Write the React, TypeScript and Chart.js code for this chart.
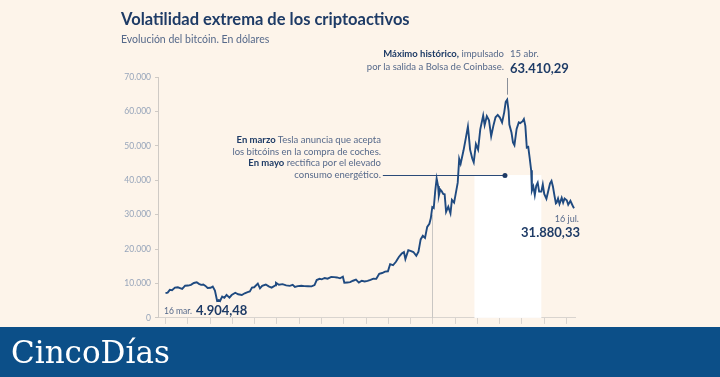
import React, { useEffect, useRef } from "react";
import { Chart, registerables } from "chart.js";

Chart.register(...registerables);

// ---- data ----
const dates: string[] = [
  "2020-01-01","2020-01-04","2020-01-07","2020-01-10","2020-01-14","2020-01-18","2020-01-21","2020-01-24","2020-01-28",
  "2020-02-01","2020-02-05","2020-02-09","2020-02-13","2020-02-16","2020-02-19","2020-02-22","2020-02-25","2020-02-28",
  "2020-03-03","2020-03-06","2020-03-09","2020-03-12","2020-03-14","2020-03-16","2020-03-19","2020-03-22","2020-03-25","2020-03-29",
  "2020-04-01","2020-04-06","2020-04-10","2020-04-15","2020-04-19","2020-04-23","2020-04-26","2020-04-29",
  "2020-05-02","2020-05-07","2020-05-10","2020-05-13","2020-05-18","2020-05-22","2020-05-26","2020-05-31",
  "2020-06-01","2020-06-05","2020-06-10","2020-06-15","2020-06-20","2020-06-24","2020-06-27",
  "2020-07-01","2020-07-06","2020-07-10","2020-07-15","2020-07-20","2020-07-24","2020-07-27","2020-07-31",
  "2020-08-03","2020-08-07","2020-08-11","2020-08-16","2020-08-20","2020-08-24","2020-08-28",
  "2020-09-01","2020-09-03","2020-09-07","2020-09-11","2020-09-15","2020-09-19","2020-09-23","2020-09-27",
  "2020-10-01","2020-10-05","2020-10-09","2020-10-13","2020-10-17","2020-10-21","2020-10-25","2020-10-29",
  "2020-11-02","2020-11-05","2020-11-09","2020-11-13","2020-11-17","2020-11-21","2020-11-24","2020-11-26","2020-11-30",
  "2020-12-03","2020-12-07","2020-12-11","2020-12-14","2020-12-17","2020-12-20","2020-12-23","2020-12-26","2020-12-29","2020-12-31",
  "2021-01-02","2021-01-04","2021-01-06","2021-01-08","2021-01-10","2021-01-11","2021-01-13","2021-01-15","2021-01-17","2021-01-19",
  "2021-01-21","2021-01-24","2021-01-27","2021-01-29",
  "2021-02-01","2021-02-04","2021-02-06","2021-02-08","2021-02-10","2021-02-14","2021-02-17","2021-02-20","2021-02-21","2021-02-23","2021-02-26","2021-02-28",
  "2021-03-03","2021-03-06","2021-03-09","2021-03-13","2021-03-15","2021-03-18","2021-03-21","2021-03-24","2021-03-27","2021-03-30",
  "2021-04-02","2021-04-05","2021-04-08","2021-04-11","2021-04-13","2021-04-15","2021-04-17","2021-04-18","2021-04-21","2021-04-23","2021-04-25","2021-04-28",
  "2021-05-01","2021-05-03","2021-05-06","2021-05-08","2021-05-10","2021-05-12","2021-05-14","2021-05-16","2021-05-18","2021-05-19","2021-05-21","2021-05-23","2021-05-25","2021-05-27","2021-05-29",
  "2021-06-01","2021-06-03","2021-06-05","2021-06-08","2021-06-11","2021-06-13","2021-06-15","2021-06-17","2021-06-19","2021-06-21","2021-06-22","2021-06-24","2021-06-26","2021-06-29",
  "2021-07-01","2021-07-03","2021-07-06","2021-07-08","2021-07-11","2021-07-13","2021-07-15","2021-07-16",
];

const prices: number[] = [
  7200,7350,8150,8050,8800,8900,8650,8400,9350,
  9400,9600,10150,10350,9900,9600,9700,9300,8700,
  8750,9100,7950,4970,5200,4904,6190,5830,6700,5900,
  6640,7300,6860,6640,7150,7500,7700,8800,
  8900,9950,8600,9300,9700,9150,8800,9450,
  10200,9650,9800,9450,9300,9600,9000,
  9230,9350,9240,9200,9160,9550,11000,11350,
  11200,11600,11400,11900,11850,11750,11500,
  11950,10200,10300,10400,10800,11100,10250,10800,
  10600,10750,11060,11400,11350,12800,13050,13450,
  13550,15600,15300,16300,17700,18700,19150,17100,19650,
  19450,19150,18050,19250,22800,23850,23250,26450,27350,29000,
  32200,31900,36800,40500,38300,35500,37300,36800,36000,35900,
  30800,32300,30400,34300,
  33500,37000,39300,46200,44800,48700,52100,55600,53500,48900,46300,45200,
  50500,48900,54800,58800,56000,58600,57400,52800,55800,58300,
  59000,58200,56800,59800,62800,63410,60100,56200,53800,51000,50200,54900,
  56800,56600,57100,57800,55800,49500,49700,46400,42900,37000,38200,35700,38400,39300,36700,
  36700,38800,36000,34600,37300,39100,39800,38100,35600,33300,33500,34700,33100,34900,
  33500,34700,34200,32900,34000,33100,32200,31880,
];

const yTicks: number[] = [0, 10000, 20000, 30000, 40000, 50000, 60000, 70000];

const ORIGIN = Date.parse("2020-01-01T00:00:00Z");
const dayOf = (d: string) => (Date.parse(d + "T00:00:00Z") - ORIGIN) / 86400000;

const points = dates.map((d, i) => ({ x: dayOf(d), y: prices[i] }));
const monthTicks: number[] = Array.from({ length: 19 }, (_, i) => i * 30.65);

const bandStart = dayOf("2021-03-01");
const bandEnd = dayOf("2021-06-01");
const yearLine = dayOf("2021-01-01");
const peakDay = dayOf("2021-04-15");
const peakValue = 63410;
const teslaLine = { from: dayOf("2020-10-26"), to: dayOf("2021-04-12"), value: 41500 };

const fmt = (v: number) => v === 0 ? "0" : v.toLocaleString("de-DE");

const NAVY = "#1e3b66";
const GRAYTEXT = "#56698a";
const FONT = "Lato, 'Open Sans', sans-serif";

const decorPlugin = {
  id: "decor",
  beforeDatasetsDraw(chart: any) {
    const { ctx, scales, chartArea } = chart;
    const x = scales.x, y = scales.y;
    ctx.save();
    // white band
    const x0 = x.getPixelForValue(bandStart);
    const x1 = x.getPixelForValue(bandEnd);
    const yTop = y.getPixelForValue(teslaLine.value);
    ctx.fillStyle = "#ffffff";
    ctx.fillRect(x0, yTop, x1 - x0, chartArea.bottom - yTop);
    // year line
    const xl = Math.round(x.getPixelForValue(yearLine)) + 0.5;
    ctx.strokeStyle = "#c9c6c3";
    ctx.lineWidth = 1;
    ctx.beginPath();
    ctx.moveTo(xl, y.getPixelForValue(30000));
    ctx.lineTo(xl, chartArea.bottom);
    ctx.stroke();
    // tesla annotation line + dot
    const ty = Math.round(y.getPixelForValue(teslaLine.value)) + 0.5;
    const tx0 = x.getPixelForValue(teslaLine.from);
    const tx1 = x.getPixelForValue(teslaLine.to);
    ctx.strokeStyle = "#2a4a78";
    ctx.beginPath();
    ctx.moveTo(tx0, ty);
    ctx.lineTo(tx1, ty);
    ctx.stroke();
    ctx.fillStyle = "#1e3b66";
    ctx.beginPath();
    ctx.arc(tx1, ty, 2.5, 0, Math.PI * 2);
    ctx.fill();
    // peak line
    const px = Math.round(x.getPixelForValue(peakDay)) + 0.5;
    ctx.strokeStyle = "#8a8f99";
    ctx.beginPath();
    ctx.moveTo(px, 78);
    ctx.lineTo(px, y.getPixelForValue(peakValue) - 5);
    ctx.stroke();
    ctx.restore();
  },
};

function BtcChart() {
  const ref = useRef<HTMLCanvasElement>(null);
  useEffect(() => {
    if (!ref.current) return;
    const chart = new Chart(ref.current, {
      type: "line",
      data: {
        datasets: [
          {
            data: points,
            borderColor: "#1f4a80",
            borderWidth: 1.9,
            pointRadius: 0,
            tension: 0,
            fill: false,
          },
        ],
      },
      options: {
        responsive: false,
        animation: false,
        events: [],
        layout: { padding: { left: 118, right: 144.5, top: 77, bottom: 1 } },
        plugins: { legend: { display: false }, tooltip: { enabled: false } },
        scales: {
          x: {
            type: "linear",
            min: -10.3,
            max: 564,
            afterBuildTicks: (axis: any) => {
              axis.ticks = monthTicks.map((v) => ({ value: v }));
            },
            afterFit: (axis: any) => {
              axis.height = 6;
            },
            ticks: { display: false },
            grid: { drawOnChartArea: false, drawTicks: true, tickLength: 6, color: "#d9d4cf" },
            border: { display: true, color: "#d9d4cf" },
          },
          y: {
            type: "linear",
            min: 0,
            max: 70000,
            afterBuildTicks: (axis: any) => {
              axis.ticks = yTicks.map((v) => ({ value: v }));
            },
            afterFit: (axis: any) => {
              axis.width = 40;
            },
            ticks: {
              callback: (v: any) => fmt(Number(v)),
              color: "#97a5ba",
              font: { family: FONT, size: 8.5 },
              padding: 4,
            },
            grid: { drawOnChartArea: false, drawTicks: true, tickLength: 3, color: "#cfcac5" },
            border: { display: true, color: "#cfcac5" },
          },
        },
      },
      plugins: [decorPlugin],
    });
    return () => chart.destroy();
  }, []);
  return (
    <canvas
      ref={ref}
      width={720}
      height={327}
      style={{ position: "absolute", left: 0, top: 0, width: 720, height: 327 }}
    />
  );
}

const abs = (s: React.CSSProperties): React.CSSProperties => ({ position: "absolute", whiteSpace: "nowrap", fontFamily: FONT, ...s });

export default function App() {
  return (
    <div style={{ position: "fixed", left: 0, top: 0, width: 720, height: 377, background: "#fdf4ea", overflow: "hidden" }}>
      <BtcChart />
      <div style={abs({ left: 121, top: 8, fontSize: 16.5, fontWeight: 700, color: NAVY, lineHeight: "22px" })}>
        Volatilidad extrema de los criptoactivos
      </div>
      <div style={abs({ left: 121, top: 32, fontSize: 10.5, color: GRAYTEXT, lineHeight: "14px" })}>
        Evolución del bitcóin. En dólares
      </div>
      <div style={abs({ right: 216, top: 47, fontSize: 9.5, color: GRAYTEXT, lineHeight: "13px", textAlign: "right" })}>
        <b style={{ color: NAVY }}>Máximo histórico,</b> impulsado<br />por la salida a Bolsa de Coinbase.
      </div>
      <div style={abs({ left: 510, top: 47, fontSize: 9.5, color: GRAYTEXT, lineHeight: "13px" })}>15 abr.</div>
      <div style={abs({ left: 510, top: 60, fontSize: 13, fontWeight: 700, color: NAVY, lineHeight: "16px" })}>63.410,29</div>
      <div style={abs({ right: 339, top: 134, fontSize: 9.5, color: GRAYTEXT, lineHeight: "11.5px", textAlign: "right" })}>
        <b style={{ color: NAVY }}>En marzo</b> Tesla anuncia que acepta<br />los bitcóins en la compra de coches.<br />
        <b style={{ color: NAVY }}>En mayo</b> rectifica por el elevado<br />consumo energético.
      </div>
      <div style={abs({ right: 141, top: 213, fontSize: 9, color: GRAYTEXT, lineHeight: "12px", textAlign: "right" })}>16 jul.</div>
      <div style={abs({ right: 140, top: 224, fontSize: 13, fontWeight: 700, color: NAVY, lineHeight: "16px", textAlign: "right" })}>31.880,33</div>
      <div style={abs({ left: 164, top: 305, fontSize: 8.5, color: GRAYTEXT, lineHeight: "12px" })}>16 mar.</div>
      <div style={abs({ left: 196, top: 302, fontSize: 13, fontWeight: 700, color: NAVY, lineHeight: "16px" })}>4.904,48</div>
      <div style={{ position: "absolute", left: 0, top: 327, width: 720, height: 50, background: "#0c4f88" }}>
        <div style={{ position: "absolute", left: 11, top: 5, fontFamily: "'DejaVu Serif', serif", fontSize: 31, color: "#ffffff", lineHeight: "40px" }}>
          CincoDías
        </div>
      </div>
    </div>
  );
}
